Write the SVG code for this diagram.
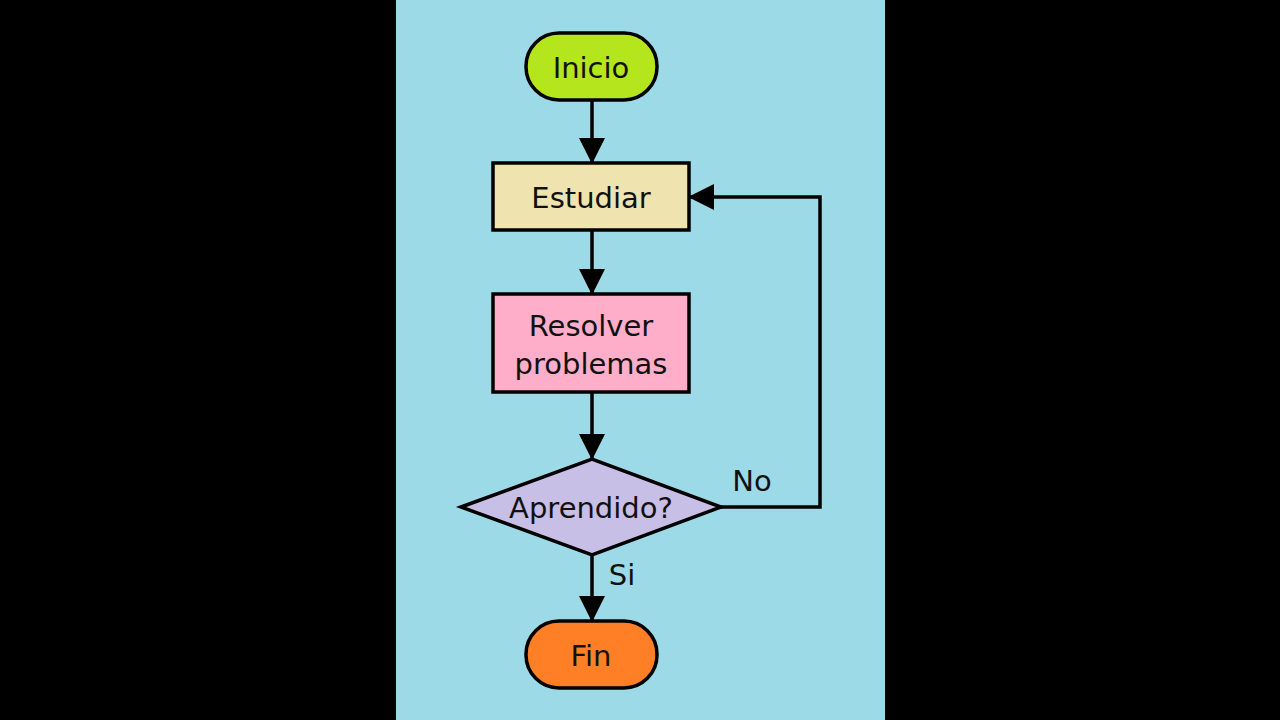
<svg xmlns="http://www.w3.org/2000/svg" width="1280" height="720" viewBox="0 0 1280 720">
<style>
.s{stroke:#000;stroke-width:3.5}
.t{font-family:"DejaVu Sans","Liberation Sans",sans-serif;font-size:29px;fill:#111;text-anchor:middle}
.c{fill:none;stroke:#000;stroke-width:3.5}
</style>
<defs>
<marker id="b" markerWidth="26" markerHeight="26" refX="24" refY="13" orient="auto" markerUnits="userSpaceOnUse" viewBox="0 0 26 26"><path d="M0,0 L26,13 L0,26z"/></marker></defs>
<rect width="1280" height="720" fill="#000"/>
<rect x="396" y="0" width="489" height="720" fill="#9ddae8"/>
<g id="connectors">
<path class="c" d="M592,100 V162" marker-end="url(#b)"/>
<path class="c" d="M592,231 V293" marker-end="url(#b)"/>
<path class="c" d="M592,393 V458" marker-end="url(#b)"/>
<path class="c" d="M721,507 H820 V197 H690" marker-end="url(#b)"/>
<path class="c" d="M592,555 V620" marker-end="url(#b)"/>
<text class="t" x="752" y="491">No</text>
<text class="t" x="622" y="585">Si</text>
</g>
<g id="inicio"><rect class="s" x="526" y="33" width="131" height="67" rx="33" fill="#b5e61d"/><text class="t" x="591" y="78">Inicio</text></g>
<g id="estudiar"><rect class="s" x="493" y="163" width="196" height="67" fill="#efe4b0"/><text class="t" x="591" y="208">Estudiar</text></g>
<g id="resolver"><rect class="s" x="493" y="294" width="196" height="98" fill="#ffaec9"/><text class="t" x="591" y="336">Resolver</text><text class="t" x="591" y="374">problemas</text></g>
<g id="aprendido"><path class="s" d="M461,507 L592,459 L721,507 L592,555z" fill="#c8bfe7"/><text class="t" x="591" y="518">Aprendido?</text></g>
<g id="fin"><rect class="s" x="526" y="621" width="131" height="67" rx="33" fill="#ff7f27"/><text class="t" x="591" y="666">Fin</text></g>
</svg>
